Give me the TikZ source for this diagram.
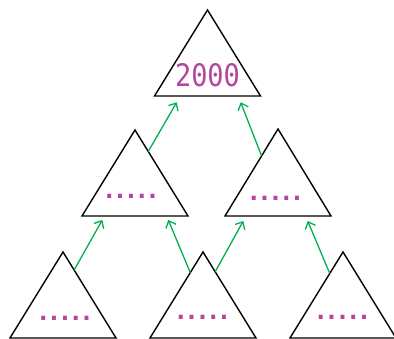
\documentclass[tikz,border=0pt]{standalone}
\usepackage{fontspec}
\newfontfamily\monofont[FakeStretch=0.87]{DejaVu Sans Mono}
\newfontfamily\dotfont[LetterSpace=-15]{DejaVu Sans Mono Bold}
\usetikzlibrary{arrows.meta,calc}
\definecolor{numpurple}{RGB}{180,70,160}
\definecolor{arrgreen}{RGB}{0,176,80}
\tikzset{
  tri/.style={draw=black,line width=1.4pt,line join=miter},
  link/.style={draw=arrgreen,line width=1.3pt,-{Straight Barb[length=6pt,width=11pt,line width=1.3pt]}},
  big/.style={text=numpurple,font=\monofont\fontsize{31}{31}\selectfont,anchor=base,inner sep=0pt},
  dots/.style={text=numpurple,font=\dotfont\fontsize{24}{24}\selectfont,anchor=base,inner sep=0pt}
}
\begin{document}
\begin{tikzpicture}[x=1pt,y=1pt]
\useasboundingbox (0,0) rectangle (394,339);
% triangles: apex, left, right
\foreach \n/\cx/\ty/\by in {T1/207.5/329/243, M1/135/209/123, M2/278/210/123, B1/63/87/1, B2/203/87/1, B3/343/87/1}{
  \coordinate (\n a) at (\cx,\ty);
  \coordinate (\n l) at (\cx-53,\by);
  \coordinate (\n r) at (\cx+53,\by);
  \draw[tri] (\n a) -- (\n l) -- (\n r) -- cycle;
}
% labels
\node[big] (t1) at (207.5,252.5) {2000};
\node[dots] (m1) at (131,140) {.....};
\node[dots] (m2) at (275.5,138) {.....};
\node[dots] (b1) at (65,18.5) {.....};
\node[dots] (b2) at (202.5,19.5) {.....};
\node[dots] (b3) at (342.5,19.5) {.....};
% arrow ends
\coordinate (e1) at (176.7,236.7);
\coordinate (e2) at (240.7,236.7);
\coordinate (e3) at (102.3,119);
\coordinate (e4) at (168.3,119);
\coordinate (e5) at (243.3,118);
\coordinate (e6) at (307.7,118);
\draw[link] ($(M1a)!0.25!(M1r)$) -- (e1);
\draw[link] ($(M2a)!0.31!(M2l)$) -- (e2);
\draw[link] ($(B1a)!0.21!(B1r)$) -- (e3);
\draw[link] ($(B2a)!0.24!(B2l)$) -- (e4);
\draw[link] ($(B2a)!0.23!(B2r)$) -- (e5);
\draw[link] ($(B3a)!0.25!(B3l)$) -- (e6);
\end{tikzpicture}
\end{document}
